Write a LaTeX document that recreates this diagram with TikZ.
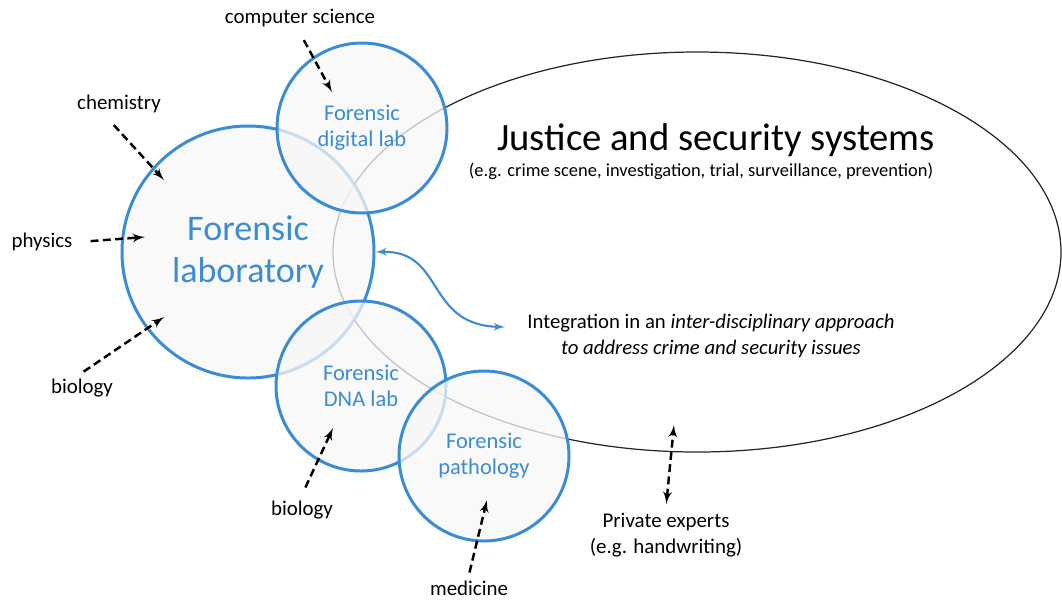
\documentclass[tikz,border=0pt]{standalone}
\usepackage{fontspec}
\setmainfont{Carlito}
\usetikzlibrary{shapes,arrows}
\definecolor{labblue}{RGB}{60,140,212}
\newcommand{\pxu}{0.02cm}
\tikzstyle{lab} = [circle, draw=labblue, line width=1.7pt, fill=black!3,
    fill opacity=0.75, text opacity=1, text=labblue, align=center,
    inner sep=0pt, font=\fontsize{12.8}{14.7}\selectfont]
\tikzstyle{field} = [align=center, font=\fontsize{11.9}{14.7}\selectfont]
\tikzstyle{line} = [draw, -latex', line width=1.4pt, dash pattern=on 4.5pt off 2.5pt]
\tikzstyle{link} = [draw=labblue, latex'-latex', line width=1.2pt]

\begin{document}
\begin{tikzpicture}[x=\pxu, y=-\pxu]
    \useasboundingbox (0,0) rectangle (1062,600);
    % Place nodes
    \node [ellipse, draw=black!85, line width=0.7pt, minimum width=728*\pxu,
        minimum height=400*\pxu, inner sep=0pt] (jss) at (697,252) {};
    \node [lab, minimum size=252*\pxu, font=\fontsize{20.5}{24.4}\selectfont] (lab) at (248,252) {Forensic\\laboratory};
    \node [lab, minimum size=170*\pxu] (digital) at (362,128) {Forensic\\digital lab};
    \node [lab, minimum size=170*\pxu] (dna) at (361,386) {Forensic\\DNA lab};
    \node [lab, minimum size=170*\pxu] (patho) at (484,456) {Forensic\\pathology};
    \node [font=\fontsize{22}{26}\selectfont] (title) at (716,140) {Justice and security systems};
    \node [font=\fontsize{10.5}{12}\selectfont] (eg) at (701,171) {(e.g. crime scene, investigation, trial, surveillance, prevention)};
    \node [field, font=\fontsize{11.8}{14.7}\selectfont] (integ) at (711,336) {Integration in an \textit{inter-disciplinary approach}\\\textit{to address crime and security issues}};
    \node [field] (cs) at (300,18) {computer science};
    \node [field] (chem) at (119,104) {chemistry};
    \node [field] (phys) at (42,242) {physics};
    \node [field] (bio1) at (82,388) {biology};
    \node [field] (bio2) at (302,510) {biology};
    \node [field] (med) at (469,588) {medicine};
    \node [field] (priv) at (666,535) {Private experts\\(e.g. handwriting)};
    % Arrow tips
    \coordinate (cstip) at (332,92);
    \coordinate (chemtip) at (164,180);
    \coordinate (phystip) at (145,237);
    \coordinate (bio1tip) at (164,317);
    \coordinate (bio2tip) at (333,428);
    \coordinate (medtip) at (487,500);
    \coordinate (privtip) at (674,425);
    \coordinate (integtip) at (505,327);
    % Draw edges
    \path [line, shorten <=8*\pxu] (cs.south) -- (cstip);
    \path [line, shorten <=8*\pxu] (chem.235) -- (chemtip);
    \path [line, shorten <=12*\pxu] (phys.east) -- (phystip);
    \path [line, shorten <=2*\pxu] (bio1.north) -- (bio1tip);
    \path [line, shorten <=8*\pxu] (bio2.north) -- (bio2tip);
    \path [line, shorten <=2*\pxu] (med.north) -- (medtip);
    \path [line, latex'-latex', shorten <=3*\pxu] (priv.north) -- (privtip);
    \path [link] (lab.east) .. controls (445,250) and (425,325) .. (integtip);
\end{tikzpicture}
\end{document}
